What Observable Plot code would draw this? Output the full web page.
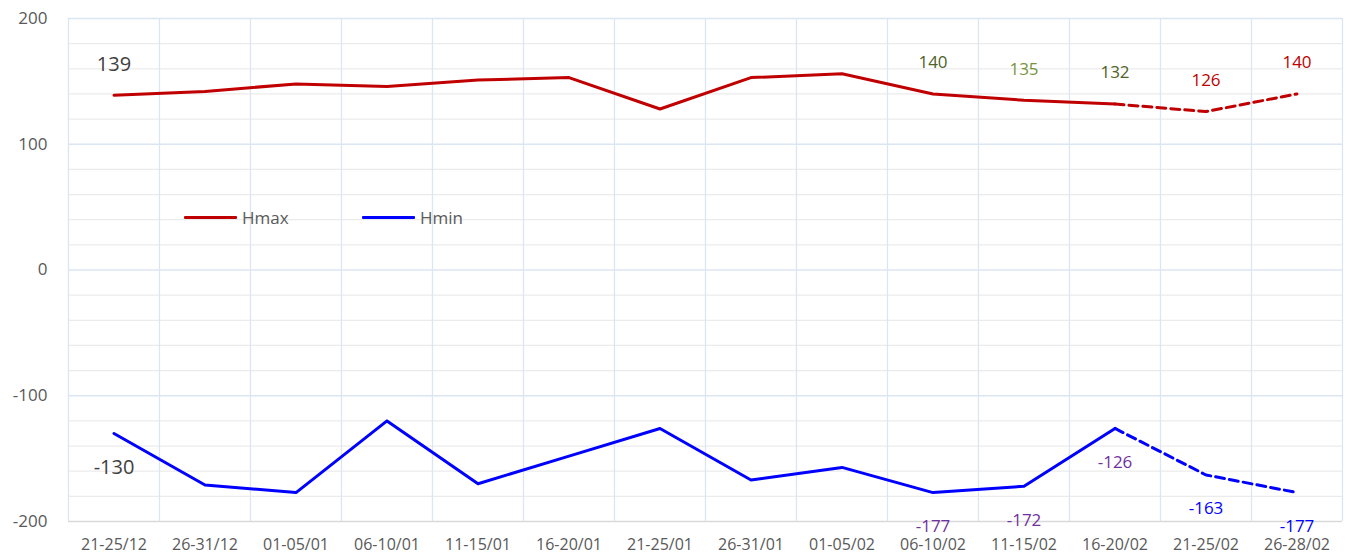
<!DOCTYPE html>
<html><head><meta charset="utf-8">
<script src="https://cdn.jsdelivr.net/npm/d3@7"></script>
<script src="https://cdn.jsdelivr.net/npm/@observablehq/plot@0.6"></script>
<style>
body{margin:0;background:#fff;}
#wrap{position:relative;width:1350px;height:558px;font-family:"Open Sans",sans-serif;}
.item{position:absolute;top:206px;height:22px;display:flex;align-items:center;font-size:17px;color:#595959;}
.item .sw{width:53px;height:3px;margin-right:5px;border-radius:1px;}
</style>
</head><body><div id="wrap"></div>
<script>
const categories = ["21-25/12","26-31/12","01-05/01","06-10/01","11-15/01","16-20/01","21-25/01","26-31/01","01-05/02","06-10/02","11-15/02","16-20/02","21-25/02","26-28/02"];
const hmax = [139,142,148,146,151,153,128,153,156,140,135,132,126,140];
const hmin = [-130,-171,-177,-120,-170,-148,-126,-167,-157,-177,-172,-126,-163,-177];
const forecastStart = 11;
const yTicks = [-200,-100,0,100,200];
const labelIdx = [0,9,10,11,12,13];
const seriesNames = ["Hmax","Hmin"];

// styles
const maxColors = {0:"#404040",9:"#4f6228",10:"#77933c",11:"#4f6228",12:"#c00000",13:"#c00000"};
const minColors = {0:"#404040",9:"#7030a0",10:"#7030a0",11:"#7030a0",12:"#0000ff",13:"#0000ff"};
const RED = "#c00000", BLUE = "#0000ff";

const idx = categories.map((_, i) => i);
const rows = idx.map(i => ({i, cat: categories[i], hmax: hmax[i], hmin: hmin[i]}));
const actual = rows.filter(d => d.i <= forecastStart);
const forecast = rows.filter(d => d.i >= forecastStart);
const labels = rows.filter(d => labelIdx.includes(d.i));
const boundaries = d3.range(categories.length + 1).map(i => i - 0.5);
const gridY = d3.range(-200, 201, 20);

const chart = Plot.plot({
  width: 1350, height: 558,
  marginLeft: 68, marginRight: 8, marginTop: 18, marginBottom: 37,
  style: {fontFamily: '"Open Sans", sans-serif', background: "#fff"},
  x: {type: "linear", domain: [-0.5, categories.length - 0.5], axis: null},
  y: {domain: [-200, 200], axis: null},
  color: {type: "identity"},
  marks: [
    Plot.ruleY(gridY.filter(v => v % 100 !== 0), {stroke: "#ebebeb", strokeWidth: 1.3}),
    Plot.ruleY(gridY.filter(v => v % 100 === 0 && v > -200), {stroke: "#dce6f2", strokeWidth: 1.3}),
    Plot.ruleX(boundaries, {stroke: "#dce6f2", strokeWidth: 1.3}),
    Plot.ruleY([-200], {stroke: "#d9d9d9", strokeWidth: 1.5}),
    Plot.axisX(idx, {x: d => d, tickFormat: i => categories[i], tickSize: 0, tickPadding: 17, fontSize: 16, fill: "#595959", anchor: "bottom", label: null}),
    Plot.axisY(yTicks, {tickSize: 0, tickPadding: 21, fontSize: 17, fill: "#595959", anchor: "left", label: null, tickFormat: d => String(d)}),
    Plot.line(actual, {x: "i", y: "hmax", stroke: RED, strokeWidth: 3}),
    Plot.line(forecast, {x: "i", y: "hmax", stroke: RED, strokeWidth: 3, strokeDasharray: "9,5"}),
    Plot.line(actual, {x: "i", y: "hmin", stroke: BLUE, strokeWidth: 3}),
    Plot.line(forecast, {x: "i", y: "hmin", stroke: BLUE, strokeWidth: 3, strokeDasharray: "9,5"}),
    Plot.text(labels, {x: "i", y: "hmax", text: d => String(d.hmax), dy: -31, fill: d => maxColors[d.i], fontSize: d => d.i === 0 ? 20 : 17}),
    Plot.text(labels, {x: "i", y: "hmin", text: d => String(d.hmin), dy: 34, fill: d => minColors[d.i], fontSize: d => d.i === 0 ? 20 : 17})
  ]
});

const wrap = document.getElementById("wrap");
wrap.appendChild(chart);
[[seriesNames[0], RED, 184], [seriesNames[1], BLUE, 362]].forEach(([name, color, left]) => {
  const item = document.createElement("div");
  item.className = "item";
  item.style.left = left + "px";
  item.innerHTML = `<div class="sw" style="background:${color}"></div>${name}`;
  wrap.appendChild(item);
});
</script>
</body></html>
